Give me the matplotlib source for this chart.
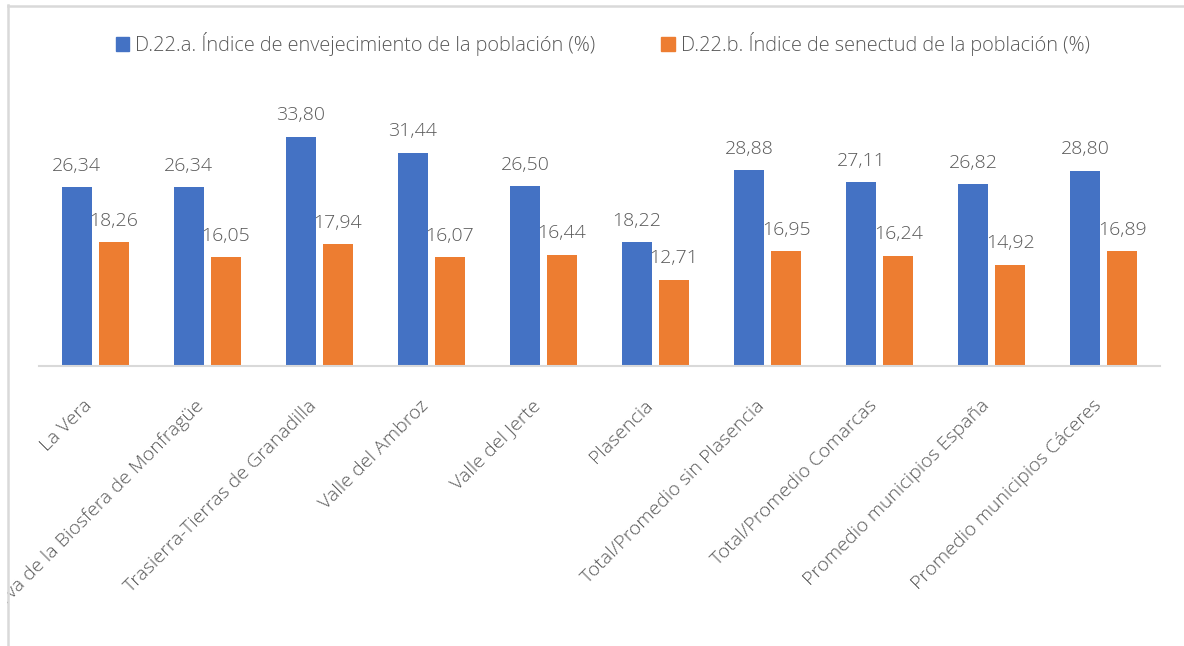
import matplotlib
matplotlib.use("Agg")
import matplotlib.pyplot as plt
from matplotlib.patches import Rectangle
from matplotlib.lines import Line2D
from matplotlib.transforms import ScaledTranslation
import numpy as np

categories = [
    "La Vera",
    "Reserva de la Biosfera de Monfragüe",
    "Trasierra-Tierras de Granadilla",
    "Valle del Ambroz",
    "Valle del Jerte",
    "Plasencia",
    "Total/Promedio sin Plasencia",
    "Total/Promedio Comarcas",
    "Promedio municipios España",
    "Promedio municipios Cáceres",
]
envejecimiento = [26.34, 26.34, 33.80, 31.44, 26.50, 18.22, 28.88, 27.11, 26.82, 28.80]
senectud = [18.26, 16.05, 17.94, 16.07, 16.44, 12.71, 16.95, 16.24, 14.92, 16.89]
series_names = [
    "D.22.a. Índice de envejecimiento de la población (%)",
    "D.22.b. Índice de senectud de la población (%)",
]
colors = ["#4472C4", "#ED7D31"]
text_color = "#595959"

plt.rcParams['font.family'] = ['Open Sans', 'DejaVu Sans']
FS = 14
FW = 'light'

W, H = 1184, 646
fig = plt.figure(figsize=(W / 100, H / 100), dpi=100)

# axes: x 39..1160 px, baseline y=366 px, scale ~6.78 px/unit
x0, x1 = 39, 1160
y0 = 366
ymax = 40
ppu = 6.78
ytop = y0 - ymax * ppu
ax = fig.add_axes([x0 / W, 1 - y0 / H, (x1 - x0) / W, (y0 - ytop) / H])

x = np.arange(len(categories))
w = 0.268
off = 0.165
b1 = ax.bar(x - off, envejecimiento, w, color=colors[0], label=series_names[0])
b2 = ax.bar(x + off, senectud, w, color=colors[1], label=series_names[1])

fmt = lambda v: f"{v:.2f}".replace(".", ",")
for bars, vals in ((b1, envejecimiento), (b2, senectud)):
    ax.bar_label(bars, labels=[fmt(v) for v in vals], padding=9,
                 fontsize=FS, color=text_color, fontweight=FW)

ax.set_xlim(-0.5, len(categories) - 0.5)
ax.set_ylim(0, ymax)
for s in ("top", "right", "left"):
    ax.spines[s].set_visible(False)
ax.spines["bottom"].set_color("#d9d9d9")
ax.spines["bottom"].set_linewidth(1.5)
ax.set_yticks([])
ax.set_xticks(x)
ax.set_xticklabels(categories, rotation=45, ha='right', va='top',
                   rotation_mode='anchor', fontsize=FS, color=text_color,
                   fontweight=FW)
ax.tick_params(axis='x', length=0, pad=22)
shift = ScaledTranslation(-12 / 100, 0, fig.dpi_scale_trans)
for lbl in ax.get_xticklabels():
    lbl.set_transform(lbl.get_transform() + shift)
ax.patch.set_visible(False)

handles = [Rectangle((0, 0), 1, 1, color=c) for c in colors]
fig.legend(handles, series_names, loc='center', bbox_to_anchor=(0.509, 1 - 44 / H),
           ncol=2, frameon=False, prop={'size': 14.3, 'weight': FW},
           labelcolor=text_color,
           handlelength=0.7, handleheight=0.7, handletextpad=0.3,
           columnspacing=3.3)

# frame (the chart is cropped on the left, as in the reference)
fig.patches.append(Rectangle((0, 0), 7 / W, 1, transform=fig.transFigure,
                             facecolor='white', edgecolor='none', zorder=10))
fig.lines.append(Line2D([7.5 / W, 7.5 / W], [0, 1 - 5 / H], transform=fig.transFigure,
                        color="#d9d9d9", lw=1.8, zorder=11))
fig.lines.append(Line2D([7.5 / W, 1], [1 - 5.5 / H, 1 - 5.5 / H], transform=fig.transFigure,
                        color="#d9d9d9", lw=1.8, zorder=11))

fig.savefig("out.png", dpi=100)
